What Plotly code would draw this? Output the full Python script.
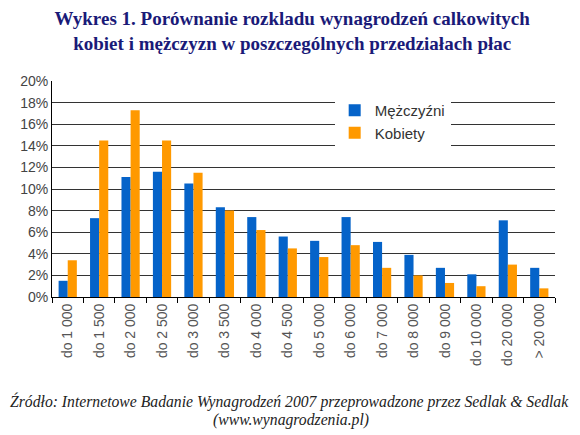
import plotly.graph_objects as go

# wage brackets (PLN)
brackets = ['do 1 000', 'do 1 500', 'do 2 000', 'do 2 500', 'do 3 000', 'do 3 500',
            'do 4 000', 'do 4 500', 'do 5 000', 'do 6 000', 'do 7 000', 'do 8 000',
            'do 9 000', 'do 10 000', 'do 20 000', '> 20 000']

# share of respondents in each bracket, %
men = [1.5, 7.3, 11.1, 11.6, 10.5, 8.3, 7.4, 5.6, 5.2, 7.4, 5.1, 3.9, 2.7, 2.1, 7.1, 2.7]
women = [3.4, 14.5, 17.3, 14.5, 11.5, 8.0, 6.2, 4.5, 3.7, 4.8, 2.7, 2.0, 1.3, 1.0, 3.0, 0.8]

fig = go.Figure()

fig.add_trace(go.Bar(
    x=brackets, y=men, name='Mężczyźni',
    marker=dict(color='#0563C9', line=dict(width=0))
))
fig.add_trace(go.Bar(
    x=brackets, y=women, name='Kobiety',
    marker=dict(color='#FF9900', line=dict(width=0))
))

# source note under the chart
fig.add_annotation(
    text='<i>Źródło: Internetowe Badanie Wynagrodzeń 2007 przeprowadzone przez Sedlak &amp; Sedlak</i>',
    xref='paper', yref='paper', x=0.473, y=-0.486, yanchor='middle', showarrow=False,
    font=dict(family='Liberation Serif', size=15.7, color='#222222')
)
fig.add_annotation(
    text='<i>(www.wynagrodzenia.pl)</i>',
    xref='paper', yref='paper', x=0.475, y=-0.569, yanchor='middle', showarrow=False,
    font=dict(family='Liberation Serif', size=15.7, color='#222222')
)

fig.update_layout(
    title=dict(
        text='Wykres 1. Porównanie rozkladu wynagrodzeń calkowitych<br>kobiet i mężczyzn w poszczególnych przedziałach płac',
        x=0.49, xanchor='center', y=0.961, yanchor='top',
        font=dict(family='Liberation Serif', size=19, color='#1A1A78', weight='bold')
    ),
    width=580,
    height=435,
    margin=dict(l=40, r=33, t=73, b=146),
    paper_bgcolor='white',
    plot_bgcolor='white',
    barmode='group',
    bargap=0.42,
    bargroupgap=0,
    showlegend=True,
    legend=dict(
        x=0.562, y=0.94, xanchor='left', yanchor='top',
        bgcolor='white', borderwidth=0,
        font=dict(family='Liberation Sans', size=15, color='#333333'),
        itemwidth=30, tracegroupgap=2
    ),
    xaxis=dict(
        tickangle=-90,
        tickfont=dict(family='Liberation Sans', size=14, color='#555555'),
        showline=True, linecolor='black', linewidth=1,
        ticks='outside', ticklen=5, tickcolor='black',
        tickson='boundaries', showgrid=False
    ),
    yaxis=dict(
        range=[0, 20], dtick=2, ticksuffix='%',
        tickfont=dict(family='Liberation Sans', size=14, color='#444444'),
        showgrid=True, gridcolor='#333333', gridwidth=1,
        showline=True, linecolor='black', linewidth=1,
        zeroline=False, ticks=''
    )
)

fig.write_html("out.html")
